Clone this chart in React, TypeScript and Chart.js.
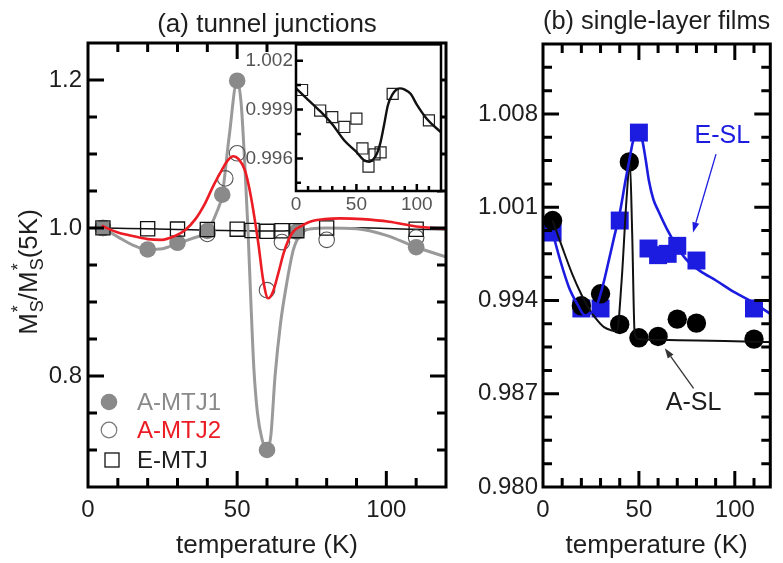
import React, { useEffect, useRef } from 'react';
import { Chart, registerables } from 'chart.js';

Chart.register(...registerables);

const FONT = '"Liberation Sans", Arial, Helvetica, sans-serif';
const INK = '#1e1e1e';
const GRAY_PT = '#8a8a8a';
const GRAY_LN = '#9a9a9a';
const RED = '#ec1c24';
const BLUE = '#1c1ce0';

// ---------- Panel (a): tunnel junctions ----------
const A_MTJ1_T = [5, 20, 30, 40, 45, 50, 60, 70, 110];
const A_MTJ1_V = [1.0, 0.971, 0.98, 0.996, 1.045, 1.199, 0.7, 0.995, 0.974];
const A_MTJ2_T = [5, 40, 46, 50, 60, 65, 80, 110];
const A_MTJ2_V = [1.0, 0.992, 1.067, 1.101, 0.916, 0.981, 0.984, 0.987];
const E_MTJ_T = [5, 20, 30, 40, 50, 55, 60, 65, 70, 80, 110];
const E_MTJ_V = [1.0002, 0.99894, 0.99854, 0.99793, 0.99844, 0.99661, 0.9955, 0.99625, 0.99637, 0.99996, 0.99834];

const FIT1_T = [5, 10, 15, 20, 25, 30, 35, 40, 43, 45, 47.3, 50, 51.3, 52.5, 53.6, 54.6, 55.6, 56.8, 58.3, 60, 61.3, 62.7, 64.5, 66.6, 68.8, 71, 75, 80, 90, 100, 110, 120];
const FIT1_V = [1.0, 0.988, 0.977, 0.971, 0.972, 0.979, 0.986, 0.996, 1.02, 1.045, 1.123, 1.199, 1.17, 1.09, 1.0, 0.9, 0.81, 0.75, 0.715, 0.7, 0.72, 0.8, 0.87, 0.925, 0.97, 0.99, 0.999, 1.0, 0.999, 0.99, 0.974, 0.961];
const FIT2_T = [4.6, 10, 13.5, 20, 24.7, 29, 32.5, 36, 39.2, 42, 44.8, 47, 48.7, 50.5, 52.6, 54, 55.4, 57.1, 58.7, 60.4, 62, 63.8, 65.5, 67.2, 69, 71.6, 74.4, 79.4, 84.5, 92, 101, 110, 118, 120];
const FIT2_V = [1.003, 0.994, 0.9905, 0.985, 0.984, 0.989, 0.997, 1.012, 1.033, 1.057, 1.078, 1.092, 1.097, 1.093, 1.078, 1.055, 1.024, 0.979, 0.93, 0.905, 0.914, 0.939, 0.965, 0.984, 0.996, 1.003, 1.0085, 1.012, 1.013, 1.012, 1.0085, 1.002, 0.9996, 0.9995];
const EFIT_T = [0, 10, 20, 30, 40, 50, 56, 61, 64, 67, 70, 73, 76, 80, 83, 86, 90, 95, 100, 108, 120];
const EFIT_V = [1.0003, 0.9996, 0.9989, 0.9981, 0.9971, 0.9964, 0.9959, 0.9958, 0.99595, 0.9963, 0.997, 0.9981, 0.99925, 0.99995, 1.00022, 1.0003, 1.00022, 0.99995, 0.9993, 0.99845, 0.9976];

const A_X_LABELS = [0, 50, 100];
const A_Y_LABELS = [0.8, 1.0, 1.2];
const INSET_X_LABELS = [0, 50, 100];
const INSET_Y_LABELS = [0.996, 0.999, 1.002];

const LEGEND_LABELS = ['A-MTJ1', 'A-MTJ2', 'E-MTJ'];
const LEGEND_COLORS = [GRAY_PT, RED, INK];

// ---------- Panel (b): single-layer films ----------
const ESL_T = [5, 20, 30, 40, 50, 55, 60, 65, 70, 80, 110];
const ESL_V = [0.9991, 0.9934, 0.9934, 1.0, 1.0066, 0.9979, 0.9974, 0.9975, 0.9981, 0.997, 0.9934];
const ASL_T = [5, 20, 30, 40, 45, 50, 60, 70, 80, 110];
const ASL_V = [1.0, 0.9936, 0.9945, 0.9922, 1.0044, 0.9912, 0.9913, 0.9926, 0.9923, 0.9911];
const ESL_FIT_T = [5, 9, 13.5, 18, 21.8, 24.5, 27.7, 31, 34.3, 37, 40.2, 43, 45.2, 47, 48.5, 50, 51.8, 53.5, 55.2, 57.5, 60.2, 65.2, 70, 75.2, 82, 90.2, 100, 109.3, 118.5];
const ESL_FIT_V = [0.9991, 0.997, 0.995, 0.9937, 0.99288, 0.993, 0.9935, 0.995, 0.997, 0.9987, 1.0007, 1.003, 1.0047, 1.006, 1.0066, 1.0066, 1.006, 1.0046, 1.003, 1.0016, 1.0007, 0.9992, 0.998, 0.997, 0.9962, 0.9955, 0.9946, 0.99387, 0.993];
const ASL_FIT_T = [5, 10, 15.2, 20, 23.5, 27, 31.8, 36, 38.5, 41, 43.5, 45.3, 46.5, 47.8, 50, 60, 80, 110, 118.5];
const ASL_FIT_V = [1.0, 0.998, 0.996, 0.99445, 0.9935, 0.99275, 0.992, 0.99175, 0.9917, 0.9955, 1.0015, 1.0044, 0.999, 0.9915, 0.9911, 0.99105, 0.991, 0.9909, 0.99088];

const B_X_LABELS = [0, 50, 100];
const B_Y_LABELS = [0.98, 0.987, 0.994, 1.001, 1.008];

// annotation anchors (data coordinates)
const ESL_TEXT = { text: 'E-SL', x: 93.5, y: 1.00635 };
const ESL_ARROW = [90.2, 1.00498, 78.2, 0.99911];
const ASL_TEXT = { text: 'A-SL', x: 78.5, y: 0.98633 };
const ASL_ARROW = [78.5, 0.98741, 63.5, 0.99041];

const pts = (t: number[], v: number[]) => t.map((x, i) => ({ x, y: v[i] }));
const steps = (start: number, end: number, step: number) => {
  const out: number[] = [];
  for (let i = 0; start + i * step <= end + 1e-9; i++) out.push(+(start + i * step).toFixed(6));
  return out;
};

type Side = 'top' | 'bottom' | 'left' | 'right';
interface FrameCfg {
  lw: number;
  fill?: string;
  xMajor: number[];
  xMinor: number[];
  yMajor: number[];
  yMinor: number[];
  majorLen: number;
  minorLen: number;
  xSides: Side[];
  ySides: Side[];
}

function framePlugin(cfg: FrameCfg) {
  return {
    id: 'frameTicks',
    beforeDraw(chart: any) {
      if (!cfg.fill) return;
      const { ctx, chartArea: a } = chart;
      ctx.save();
      ctx.fillStyle = cfg.fill;
      ctx.fillRect(a.left, a.top, a.right - a.left, a.bottom - a.top);
      ctx.restore();
    },
    afterDraw(chart: any) {
      const { ctx, chartArea: a, scales } = chart;
      const xs = scales.x;
      const ys = scales.y;
      ctx.save();
      ctx.strokeStyle = '#000';
      ctx.lineWidth = cfg.lw;
      ctx.lineCap = 'butt';
      ctx.beginPath();
      const eps = 1e-9;
      const xt = (vals: number[], len: number) =>
        vals.forEach((v) => {
          if (v <= xs.min + eps || v >= xs.max - eps) return;
          const p = xs.getPixelForValue(v);
          if (cfg.xSides.includes('bottom')) { ctx.moveTo(p, a.bottom); ctx.lineTo(p, a.bottom - len); }
          if (cfg.xSides.includes('top')) { ctx.moveTo(p, a.top); ctx.lineTo(p, a.top + len); }
        });
      const yt = (vals: number[], len: number) =>
        vals.forEach((v) => {
          if (v <= ys.min + eps || v >= ys.max - eps) return;
          const p = ys.getPixelForValue(v);
          if (cfg.ySides.includes('left')) { ctx.moveTo(a.left, p); ctx.lineTo(a.left + len, p); }
          if (cfg.ySides.includes('right')) { ctx.moveTo(a.right, p); ctx.lineTo(a.right - len, p); }
        });
      xt(cfg.xMajor, cfg.majorLen);
      xt(cfg.xMinor.filter((v) => !cfg.xMajor.some((m) => Math.abs(m - v) < 1e-7)), cfg.minorLen);
      yt(cfg.yMajor, cfg.majorLen);
      yt(cfg.yMinor.filter((v) => !cfg.yMajor.some((m) => Math.abs(m - v) < 1e-7)), cfg.minorLen);
      ctx.stroke();
      ctx.strokeRect(a.left, a.top, a.right - a.left, a.bottom - a.top);
      ctx.restore();
    },
  };
}

function axis(
  min: number,
  max: number,
  labels: number[],
  fmt: (v: number) => string,
  size: number,
  color: string,
  padding: number,
  fit: (s: any) => void,
  title?: any
) {
  return {
    type: 'linear',
    min,
    max,
    grid: { display: false, drawTicks: false },
    border: { display: false },
    afterBuildTicks: (s: any) => {
      s.ticks = labels.map((v) => ({ value: v }));
    },
    afterFit: fit,
    ticks: {
      autoSkip: false,
      maxRotation: 0,
      minRotation: 0,
      padding,
      color,
      font: { family: FONT, size },
      callback: (v: any) => fmt(Number(v)),
    },
    title: title ?? { display: false },
  };
}

const lineSet = (label: string, t: number[], v: number[], color: string, width: number, order: number) => ({
  label,
  data: pts(t, v),
  borderColor: color,
  backgroundColor: color,
  borderWidth: width,
  pointRadius: 0,
  cubicInterpolationMode: 'monotone',
  fill: false,
  order,
  clip: 0,
});

const pointSet = (
  label: string,
  t: number[],
  v: number[],
  style: string,
  radius: number,
  bg: string,
  border: string,
  bw: number,
  order: number
) => ({
  label,
  data: pts(t, v),
  showLine: false,
  pointStyle: style,
  pointRadius: radius,
  pointHoverRadius: radius,
  pointBackgroundColor: bg,
  pointBorderColor: border,
  pointBorderWidth: bw,
  borderColor: border,
  backgroundColor: bg,
  order,
  clip: false,
});

function drawArrow(ctx: CanvasRenderingContext2D, x1: number, y1: number, x2: number, y2: number, color: string) {
  const ang = Math.atan2(y2 - y1, x2 - x1);
  const head = 10;
  const half = 3.5;
  ctx.save();
  ctx.strokeStyle = color;
  ctx.fillStyle = color;
  ctx.lineWidth = 1.3;
  ctx.beginPath();
  ctx.moveTo(x1, y1);
  ctx.lineTo(x2 - head * Math.cos(ang), y2 - head * Math.sin(ang));
  ctx.stroke();
  ctx.beginPath();
  ctx.moveTo(x2, y2);
  ctx.lineTo(x2 - head * Math.cos(ang) + half * Math.sin(ang), y2 - head * Math.sin(ang) - half * Math.cos(ang));
  ctx.lineTo(x2 - head * Math.cos(ang) - half * Math.sin(ang), y2 - head * Math.sin(ang) + half * Math.cos(ang));
  ctx.closePath();
  ctx.fill();
  ctx.restore();
}

const yTitlePlugin = {
  id: 'yTitleA',
  afterDraw(chart: any) {
    const ctx: CanvasRenderingContext2D = chart.ctx;
    const big = `26px ${FONT}`;
    const small = `18px ${FONT}`;
    ctx.save();
    ctx.translate(37, 272);
    ctx.rotate(-Math.PI / 2);
    ctx.fillStyle = INK;
    ctx.textBaseline = 'alphabetic';
    ctx.textAlign = 'left';
    ctx.font = big;
    const wM = ctx.measureText('M').width;
    const wSl = ctx.measureText('/').width;
    const wK = ctx.measureText('(5K)').width;
    ctx.font = small;
    const wS = Math.max(ctx.measureText('S').width, ctx.measureText('*').width);
    const total = wM * 2 + wS * 2 + wSl + wK + 2;
    let x = -total / 2;
    const unit = () => {
      ctx.font = big;
      ctx.fillText('M', x, 0);
      x += wM;
      ctx.font = small;
      ctx.fillText('*', x + 1, -13);
      ctx.fillText('S', x + 1, 6);
      x += wS + 1;
    };
    unit();
    ctx.font = big;
    ctx.fillText('/', x, 0);
    x += wSl;
    unit();
    ctx.font = big;
    ctx.fillText('(5K)', x, 0);
    ctx.restore();
  },
};

const legendPlugin = {
  id: 'legendA',
  afterDraw(chart: any) {
    const { ctx, chartArea: a } = chart;
    const rows = [a.bottom - 85, a.bottom - 57, a.bottom - 27];
    const mx = a.left + 21;
    ctx.save();
    ctx.fillStyle = GRAY_PT;
    ctx.beginPath();
    ctx.arc(mx, rows[0], 8.3, 0, Math.PI * 2);
    ctx.fill();
    ctx.strokeStyle = '#777';
    ctx.lineWidth = 1.2;
    ctx.beginPath();
    ctx.arc(mx, rows[1], 7.8, 0, Math.PI * 2);
    ctx.stroke();
    ctx.strokeStyle = '#111';
    ctx.lineWidth = 1.3;
    ctx.strokeRect(mx + 3 - 7, rows[2] - 7, 14, 14);
    ctx.font = `24px ${FONT}`;
    ctx.textBaseline = 'middle';
    ctx.textAlign = 'left';
    LEGEND_LABELS.forEach((lab, i) => {
      ctx.fillStyle = LEGEND_COLORS[i];
      ctx.fillText(lab, a.left + 49, rows[i] + 1);
    });
    ctx.restore();
  },
};

const annotPluginB = {
  id: 'annotB',
  afterDatasetsDraw(chart: any) {
    const { ctx, scales } = chart;
    const X = (v: number) => scales.x.getPixelForValue(v);
    const Y = (v: number) => scales.y.getPixelForValue(v);
    drawArrow(ctx, X(ESL_ARROW[0]), Y(ESL_ARROW[1]), X(ESL_ARROW[2]), Y(ESL_ARROW[3]), BLUE);
    drawArrow(ctx, X(ASL_ARROW[0]), Y(ASL_ARROW[1]), X(ASL_ARROW[2]), Y(ASL_ARROW[3]), '#333');
    ctx.save();
    ctx.font = `25px ${FONT}`;
    ctx.textAlign = 'center';
    ctx.textBaseline = 'middle';
    ctx.fillStyle = BLUE;
    ctx.fillText(ESL_TEXT.text, X(ESL_TEXT.x), Y(ESL_TEXT.y));
    ctx.fillStyle = INK;
    ctx.fillText(ASL_TEXT.text, X(ASL_TEXT.x), Y(ASL_TEXT.y));
    ctx.restore();
  },
};

const xTitle = (text: string) => ({
  display: true,
  text,
  color: INK,
  font: { family: FONT, size: 26 },
  padding: { top: 0, bottom: 2 },
});

const titleOpts = (text: string, top: number, bottom: number) => ({
  display: true,
  text,
  fullSize: false,
  color: INK,
  font: { family: FONT, size: 26, weight: 'normal' },
  padding: { top, bottom },
});

export default function App() {
  const refA = useRef<HTMLCanvasElement>(null);
  const refI = useRef<HTMLCanvasElement>(null);
  const refB = useRef<HTMLCanvasElement>(null);

  useEffect(() => {
    const charts: Chart[] = [];

    // ---- Panel (a) main ----
    charts.push(
      new Chart(refA.current as HTMLCanvasElement, {
        type: 'line',
        data: {
          datasets: [
            lineSet('A-MTJ2 fit', FIT2_T, FIT2_V, RED, 2.6, 0),
            pointSet('E-MTJ', E_MTJ_T, E_MTJ_V, 'rect', 10, 'rgba(0,0,0,0)', '#111', 1.3, 1),
            pointSet('A-MTJ1', A_MTJ1_T, A_MTJ1_V, 'circle', 8.3, GRAY_PT, GRAY_PT, 0, 2),
            pointSet('A-MTJ2', A_MTJ2_T, A_MTJ2_V, 'circle', 7.8, 'rgba(0,0,0,0)', '#555', 1.1, 3),
            lineSet('A-MTJ1 fit', FIT1_T, FIT1_V, GRAY_LN, 3, 4),
            lineSet('E-MTJ fit', EFIT_T, EFIT_V, '#111', 1.5, 5),
          ] as any,
        },
        options: {
          responsive: false,
          animation: false,
          devicePixelRatio: 1,
          layout: { padding: { left: 0, top: 0, right: 16, bottom: 0 } },
          plugins: {
            legend: { display: false },
            tooltip: { enabled: false },
            title: titleOpts('(a) tunnel junctions', 9, 2.8),
          },
          scales: {
            x: axis(0, 120, A_X_LABELS, (v) => String(v), 24, INK, 9, (s) => { s.height = 76; }, xTitle('temperature (K)')),
            y: axis(0.65, 1.25, A_Y_LABELS, (v) => v.toFixed(1), 24, INK, 6, (s) => { s.width = 88; }),
          },
        } as any,
        plugins: [
          framePlugin({
            lw: 3,
            xMajor: A_X_LABELS,
            xMinor: steps(0, 120, 10),
            yMajor: A_Y_LABELS,
            yMinor: steps(0.65, 1.25, 0.05),
            majorLen: 16,
            minorLen: 9,
            xSides: ['bottom', 'top'],
            ySides: ['left', 'right'],
          }),
          yTitlePlugin,
          legendPlugin,
        ] as any,
      })
    );

    // ---- Panel (a) inset ----
    charts.push(
      new Chart(refI.current as HTMLCanvasElement, {
        type: 'line',
        data: {
          datasets: [
            lineSet('E-MTJ fit', EFIT_T, EFIT_V, '#111', 2.4, 0),
            pointSet('E-MTJ', E_MTJ_T, E_MTJ_V, 'rect', 7.8, 'rgba(0,0,0,0)', '#222', 1.2, 1),
          ] as any,
        },
        options: {
          responsive: false,
          animation: false,
          devicePixelRatio: 1,
          layout: { padding: { left: 0, top: 13, right: 4, bottom: 0 } },
          plugins: { legend: { display: false }, tooltip: { enabled: false }, title: { display: false } },
          scales: {
            x: axis(0, 120, INSET_X_LABELS, (v) => String(v), 19, '#555', 2, (s) => { s.height = 29; }),
            y: axis(0.994, 1.003, INSET_Y_LABELS, (v) => v.toFixed(3), 19, '#555', 3, (s) => { s.width = 56; }),
          },
        } as any,
        plugins: [
          framePlugin({
            lw: 2.5,
            fill: '#ffffff',
            xMajor: INSET_X_LABELS,
            xMinor: steps(0, 120, 10),
            yMajor: INSET_Y_LABELS,
            yMinor: steps(0.9945, 1.003, 0.0015),
            majorLen: 7,
            minorLen: 5,
            xSides: ['bottom'],
            ySides: ['left'],
          }),
        ] as any,
      })
    );

    // ---- Panel (b) ----
    charts.push(
      new Chart(refB.current as HTMLCanvasElement, {
        type: 'line',
        data: {
          datasets: [
            lineSet('E-SL fit', ESL_FIT_T, ESL_FIT_V, BLUE, 2.6, 0),
            lineSet('A-SL fit', ASL_FIT_T, ASL_FIT_V, '#111', 2, 1),
            pointSet('A-SL', ASL_T, ASL_V, 'circle', 9.7, '#000', '#000', 0, 2),
            pointSet('E-SL', ESL_T, ESL_V, 'rect', 12.7, BLUE, BLUE, 0, 3),
          ] as any,
        },
        options: {
          responsive: false,
          animation: false,
          devicePixelRatio: 1,
          layout: { padding: { left: 0, top: 0, right: 3, bottom: 0 } },
          plugins: {
            legend: { display: false },
            tooltip: { enabled: false },
            title: titleOpts('(b) single-layer films', 6, 6.8),
          },
          scales: {
            x: axis(0, 118.5, B_X_LABELS, (v) => String(v), 24, INK, 9, (s) => { s.height = 76; }, xTitle('temperature (K)')),
            y: axis(0.98, 1.01325, B_Y_LABELS, (v) => v.toFixed(3), 24, INK, 5, (s) => { s.width = 81; }),
          },
        } as any,
        plugins: [
          framePlugin({
            lw: 3,
            xMajor: B_X_LABELS,
            xMinor: steps(0, 118.5, 10),
            yMajor: B_Y_LABELS,
            yMinor: steps(0.98, 1.01325, 0.00175),
            majorLen: 16,
            minorLen: 9,
            xSides: ['bottom', 'top'],
            ySides: ['left', 'right'],
          }),
          annotPluginB,
        ] as any,
      })
    );

    return () => charts.forEach((c) => c.destroy());
  }, []);

  return (
    <div style={{ position: 'absolute', left: 0, top: 0, width: 783, height: 563, background: '#fff', overflow: 'hidden' }}>
      <canvas ref={refA} width={462} height={563} style={{ position: 'absolute', left: 0, top: 0, width: 462, height: 563 }} />
      <canvas ref={refB} width={321} height={563} style={{ position: 'absolute', left: 462, top: 0, width: 321, height: 563 }} />
      <canvas ref={refI} width={210} height={190} style={{ position: 'absolute', left: 240, top: 30, width: 210, height: 190 }} />
    </div>
  );
}
